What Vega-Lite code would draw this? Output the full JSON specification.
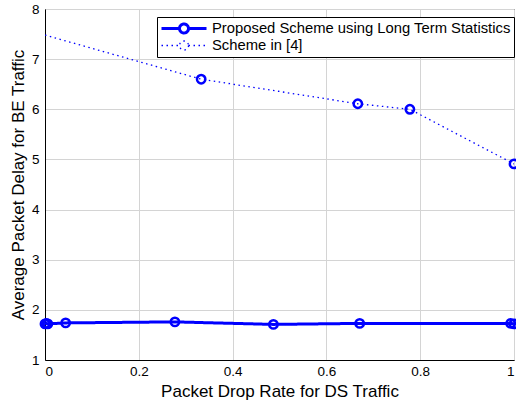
{
  "$schema": "https://vega.github.io/schema/vega-lite/v6.json",
  "width": 469,
  "height": 351,
  "autosize": "none",
  "padding": {"left": 45, "top": 9, "right": 2, "bottom": 42},
  "background": "white",
  "config": {
    "view": {"stroke": "black", "strokeWidth": 1},
    "font": "Liberation Sans",
    "axis": {
      "domainColor": "black",
      "ticks": false,
      "tickSize": 0,
      "labelFont": "Liberation Sans",
      "labelFontSize": 13.5,
      "labelColor": "black",
      "titleFont": "Liberation Sans",
      "titleFontSize": 17,
      "titleFontWeight": "normal",
      "titleColor": "black",
      "grid": true,
      "gridColor": "#d4d4d4",
      "gridWidth": 1,
      "gridOpacity": 1
    }
  },
  "data": {
    "values": [
      {"series": "Proposed Scheme using Long Term Statistics", "x": 0.0, "y": 1.72},
      {"series": "Proposed Scheme using Long Term Statistics", "x": 0.003, "y": 1.73},
      {"series": "Proposed Scheme using Long Term Statistics", "x": 0.006, "y": 1.72},
      {"series": "Proposed Scheme using Long Term Statistics", "x": 0.044, "y": 1.74},
      {"series": "Proposed Scheme using Long Term Statistics", "x": 0.277, "y": 1.76},
      {"series": "Proposed Scheme using Long Term Statistics", "x": 0.487, "y": 1.71},
      {"series": "Proposed Scheme using Long Term Statistics", "x": 0.671, "y": 1.73},
      {"series": "Proposed Scheme using Long Term Statistics", "x": 0.993, "y": 1.73},
      {"series": "Proposed Scheme using Long Term Statistics", "x": 1.0, "y": 1.72},
      {"series": "Scheme in [4]", "x": 0.0, "y": 7.48},
      {"series": "Scheme in [4]", "x": 0.333, "y": 6.6},
      {"series": "Scheme in [4]", "x": 0.667, "y": 6.11},
      {"series": "Scheme in [4]", "x": 0.778, "y": 6.0},
      {"series": "Scheme in [4]", "x": 1.0, "y": 4.91}
    ]
  },
  "encoding": {
    "x": {"field": "x", "type": "quantitative", "scale": {"domain": [0, 1], "nice": false},
          "axis": {"title": "Packet Drop Rate for DS Traffic", "tickCount": 5, "format": "~g", "labelPadding": 4, "titlePadding": 6}},
    "y": {"field": "y", "type": "quantitative", "scale": {"domain": [1, 8], "nice": false, "zero": false},
          "axis": {"title": "Average Packet Delay for BE Traffic", "tickCount": 7, "labelPadding": 6, "titlePadding": 4}},
    "color": {"field": "series", "type": "nominal",
              "scale": {"domain": ["Proposed Scheme using Long Term Statistics", "Scheme in [4]"], "range": ["#0000ff", "#0000ff"]},
              "legend": {"orient": "none", "legendX": 112, "legendY": 8, "title": null,
                         "strokeColor": "black", "fillColor": "white", "padding": 3,
                         "symbolType": "M-1,0 L-0.2,0 M0.2,0 L1,0 M0.2,0 A0.2,0.2 0 1,1 -0.2,0 A0.2,0.2 0 1,1 0.2,0",
                         "symbolSize": 2025, "clipHeight": 17, "rowPadding": 0,
                         "labelFont": "Liberation Sans", "labelFontSize": 14.8, "labelColor": "black", "labelLimit": 400,
                         "symbolFillColor": "transparent", "labelOffset": 4}}
  },
  "layer": [
    {
      "mark": {"type": "line", "clip": true},
      "encoding": {
        "strokeDash": {"field": "series", "type": "nominal",
                       "scale": {"domain": ["Proposed Scheme using Long Term Statistics", "Scheme in [4]"], "range": [[1, 0], [1.5, 3.5]]}},
        "strokeWidth": {"field": "series", "type": "nominal",
                        "scale": {"domain": ["Proposed Scheme using Long Term Statistics", "Scheme in [4]"], "range": [3, 1.3]}}
      }
    },
    {
      "transform": [{"filter": "datum.series != 'Scheme in [4]' || datum.x > 0"}],
      "mark": {"type": "point", "filled": false, "size": 70, "strokeWidth": 2.5, "opacity": 1, "clip": false}
    }
  ]
}
